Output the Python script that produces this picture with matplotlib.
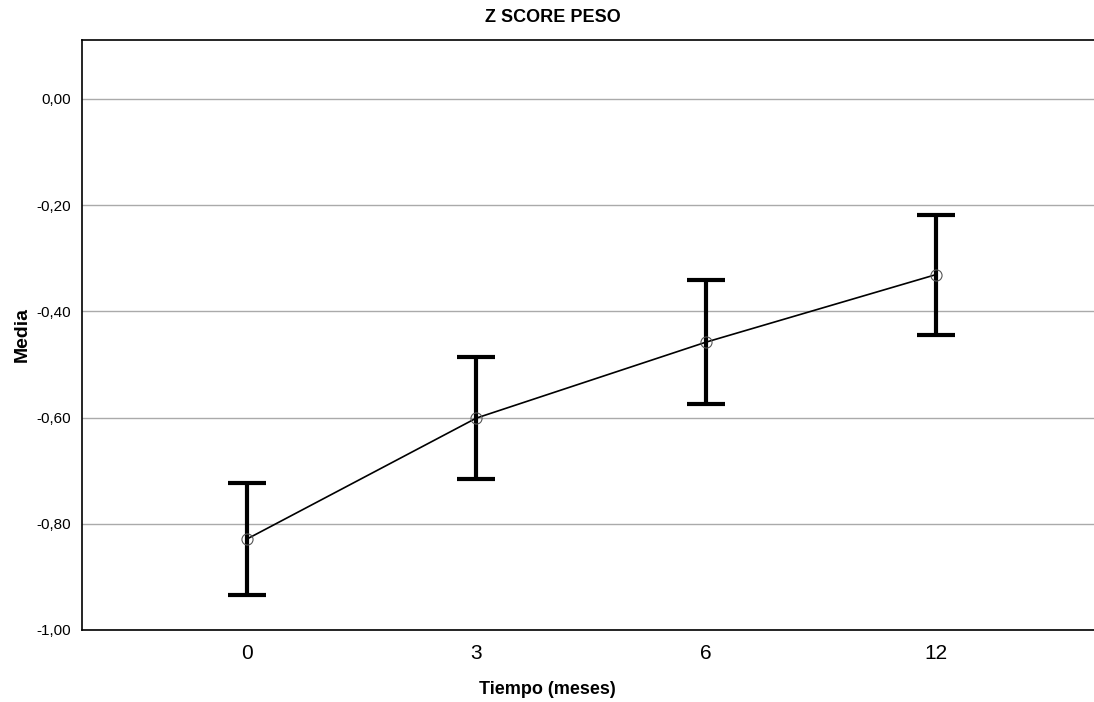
import numpy as np
import matplotlib
matplotlib.use("Agg")
import matplotlib.pyplot as plt

plt.rcParams['font.family'] = ['Liberation Sans', 'DejaVu Sans']

# datos
tiempos = ['0', '3', '6', '12']
media = [-0.829, -0.601, -0.458, -0.331]
ic_sup = [-0.723, -0.486, -0.341, -0.218]
ic_inf = [-0.934, -0.716, -0.574, -0.444]
y_ticks = [0.0, -0.2, -0.4, -0.6, -0.8, -1.0]
y_labels = ['0,00', '-0,20', '-0,40', '-0,60', '-0,80', '-1,00']

fig = plt.figure(figsize=(10.94, 7.02), dpi=100)
ax = fig.add_axes([0.075, 0.1026, 0.925, 0.8404])

x = np.arange(len(tiempos))
media = np.array(media)
err = [media - np.array(ic_inf), np.array(ic_sup) - media]

ax.errorbar(x, media, yerr=err, fmt='none', ecolor='black', elinewidth=3,
            capsize=13.5, capthick=3, zorder=3)
ax.plot(x, media, color='black', linewidth=1.2, zorder=4)
ax.plot(x, media, linestyle='none', marker='o', markersize=8,
        markerfacecolor='none', markeredgecolor='#555555', markeredgewidth=0.8, zorder=5)

ax.set_xlim(-0.717, 3.69)
ax.set_ylim(-1.0, 0.111)
ax.set_xticks(x)
ax.set_xticklabels(tiempos, fontsize=15)
ax.set_yticks(y_ticks)
ax.set_yticklabels(y_labels, fontsize=11)
ax.tick_params(axis='y', length=0, pad=8)
ax.tick_params(axis='x', length=0, pad=10)
ax.yaxis.grid(True, color='#aaaaaa', linewidth=1)
ax.set_axisbelow(True)
ax.spines['right'].set_visible(False)
for s in ['left', 'top', 'bottom']:
    ax.spines[s].set_linewidth(1.2)

ax.set_ylabel('Media', fontsize=14, fontweight='bold', labelpad=4)
fig.text(0.5, 0.006, 'Tiempo (meses)', fontsize=13, fontweight='bold', ha='center', va='bottom')
fig.text(0.505, 0.987, 'Z SCORE PESO', fontsize=13, fontweight='bold', ha='center', va='top')

fig.savefig('out.png', dpi=100)
